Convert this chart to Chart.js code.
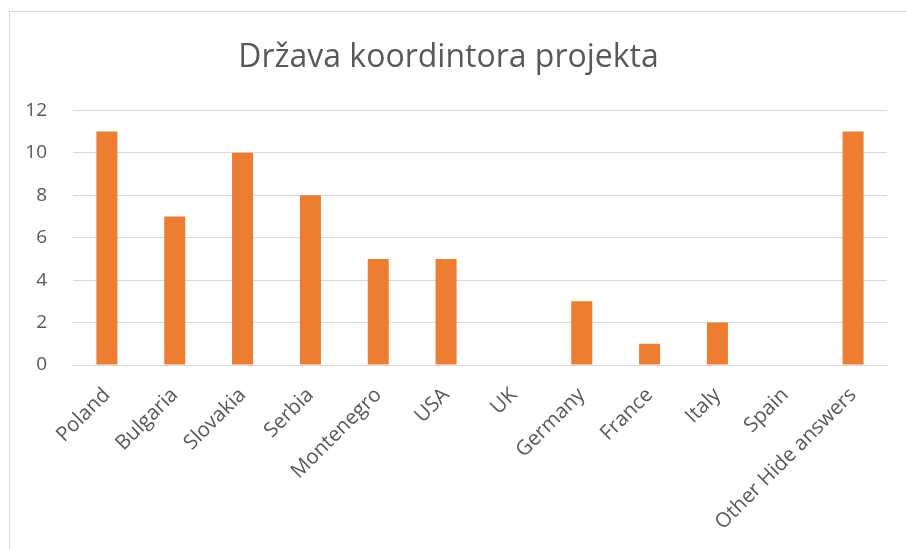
<!DOCTYPE html>
<html>
<head>
  <meta charset="utf-8">
  <title>Država koordintora projekta</title>
  <script src="https://cdn.jsdelivr.net/npm/chart.js"></script>
  <style>
    html, body {
      margin: 0;
      padding: 0;
      background: white;
      overflow: hidden;
    }
    .frame {
      position: absolute;
      left: 9px;
      top: 11px;
      width: 910px;
      height: 560px;
      border-left: 1px solid #d9d9d9;
      border-top: 1px solid #d9d9d9;
    }
    .box {
      position: absolute;
      left: 10px;
      top: 12px;
      width: 896px;
      height: 537px;
    }
  </style>
</head>
<body>
<div class="frame"></div>
<div class="box"><canvas id="chart"></canvas></div>

<script>
  const categories = ['Poland', 'Bulgaria', 'Slovakia', 'Serbia', 'Montenegro', 'USA', 'UK',
    'Germany', 'France', 'Italy', 'Spain', 'Other Hide answers'];
  const counts = [11, 7, 10, 8, 5, 5, 0, 3, 1, 2, 0, 11];
  const yTicks = [0, 2, 4, 6, 8, 10, 12];

  const txt = '#595959';
  const font = "'Open Sans', sans-serif";

  new Chart(document.getElementById('chart'), {
    type: 'bar',
    data: {
      labels: categories,
      datasets: [{
        data: counts,
        backgroundColor: '#ED7D31',
        categoryPercentage: 1,
        barPercentage: 0.31
      }]
    },
    options: {
      responsive: true,
      maintainAspectRatio: false,
      animation: false,
      layout: { padding: { left: 0, right: 19, top: 0, bottom: 0 } },
      plugins: {
        legend: { display: false },
        tooltip: { enabled: false },
        title: {
          display: true,
          text: 'Država koordintora projekta',
          color: txt,
          font: { family: font, size: 32, weight: 'normal' },
          padding: { top: 27, bottom: 33 }
        }
      },
      scales: {
        x: {
          grid: { display: false },
          border: { display: false },
          ticks: {
            color: txt,
            font: { family: font, size: 20.5 },
            minRotation: 45,
            maxRotation: 45,
            padding: 10
          },
          afterFit: s => { s.height = 184; }
        },
        y: {
          min: 0,
          max: 12,
          afterBuildTicks: s => { s.ticks = yTicks.map(v => ({ value: v })); },
          grid: { color: '#d9d9d9', lineWidth: 1, drawTicks: false },
          border: { display: false },
          ticks: {
            color: txt,
            font: { family: font, size: 19 },
            padding: 26
          },
          afterFit: s => { s.width = 63; }
        }
      }
    }
  });
</script>
</body>
</html>
